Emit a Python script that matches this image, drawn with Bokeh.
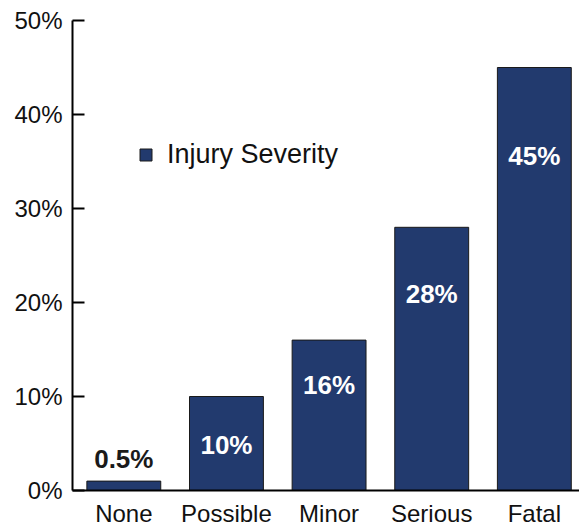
from bokeh.plotting import figure
from bokeh.models import Range1d, FixedTicker, PrintfTickFormatter, ColumnDataSource, Legend, LegendItem
from bokeh.core.properties import value
from bokeh.embed import file_html
from bokeh.resources import INLINE

categories = ["None", "Possible", "Minor", "Serious", "Fatal"]
percent = [1.0, 10, 16, 28, 45]
label_text = ["0.5%", "10%", "16%", "28%", "45%"]
label_pos = [3.3, 4.8, 11.2, 20.9, 35.6]
y_ticks = [0, 10, 20, 30, 40, 50]

BAR = "#223a6e"
FONT = "Liberation Sans"

xs = list(range(len(categories)))

p = figure(width=579, height=529, output_backend="svg", toolbar_location=None,
           x_range=Range1d(-0.5, 4.44), y_range=Range1d(0, 50),
           min_border_left=72, min_border_right=0, min_border_top=20, min_border_bottom=39)
p.outline_line_color = None
p.xgrid.visible = False
p.ygrid.visible = False
p.background_fill_color = "white"

src = ColumnDataSource(dict(x=xs, top=percent))
bars = p.vbar(x="x", top="top", width=0.72, source=src, fill_color=BAR,
              line_color="#1a1a1a", line_width=1)

lab_colors = ["#1a1a1a"] + ["white"] * (len(categories) - 1)
lsrc = ColumnDataSource(dict(x=xs, y=label_pos, t=label_text, c=lab_colors))
p.text(x="x", y="y", text="t", source=lsrc, text_color="c", text_align="center",
       text_baseline="middle", text_font=value(FONT), text_font_style="bold",
       text_font_size="26px")

# axes
p.yaxis.ticker = FixedTicker(ticks=y_ticks)
p.yaxis.formatter = PrintfTickFormatter(format="%d%%")
p.yaxis.major_tick_in = 12
p.yaxis.major_tick_out = 0
p.yaxis.minor_tick_line_color = None
p.yaxis.axis_line_width = 2
p.yaxis.major_tick_line_width = 2
p.yaxis.axis_line_color = "black"
p.yaxis.major_tick_line_color = "black"
p.yaxis.major_label_standoff = 10
p.yaxis.major_label_text_font = FONT
p.yaxis.major_label_text_font_size = "24px"
p.yaxis.major_label_text_color = "#111111"

p.xaxis.ticker = FixedTicker(ticks=xs)
p.xaxis.major_label_overrides = {i: c for i, c in zip(xs, categories)}
p.xaxis.major_tick_line_color = None
p.xaxis.minor_tick_line_color = None
p.xaxis.major_tick_in = 0
p.xaxis.major_tick_out = 0
p.xaxis.axis_line_width = 2
p.xaxis.axis_line_color = "black"
p.xaxis.major_label_standoff = 9
p.xaxis.major_label_text_font = FONT
p.xaxis.major_label_text_font_size = "24px"
p.xaxis.major_label_text_color = "#111111"

legend = Legend(items=[LegendItem(label="Injury Severity", renderers=[bars])],
                location=(66, 320), glyph_width=15, glyph_height=15,
                label_standoff=14, padding=0, margin=0,
                label_text_font=FONT, label_text_font_size="27px",
                label_text_color="#111111",
                border_line_color=None, background_fill_alpha=0)
p.add_layout(legend, "center")

open("out.html", "w").write(file_html(p, INLINE))
